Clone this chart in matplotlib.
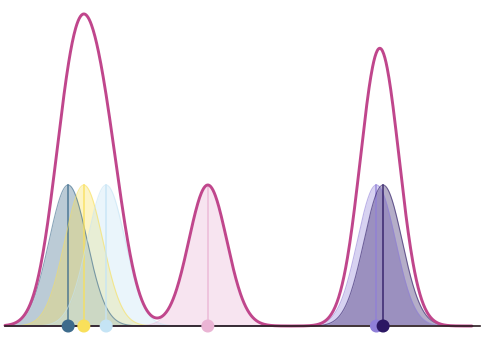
import numpy as np
import matplotlib.pyplot as plt

# sample positions (0-100 domain) and their colours
values = [13.3, 16.6, 21.3, 42.7, 78.2, 79.6]
colors = ['#3d6b8c', '#f9e05a', '#c5e4f5', '#eab4d4', '#8f7fd8', '#2b1763']
bandwidth = 4.0
x_min, x_max = 0, 98.3

xs = np.linspace(x_min, x_max, 800)
kernels = [np.exp(-0.5 * ((xs - v) / bandwidth) ** 2) for v in values]
total = np.sum(kernels, axis=0)

fig = plt.figure(figsize=(4.84, 3.37), dpi=100)
ax = fig.add_axes([0, 0, 1, 1])

for v, k, c in zip(values, kernels, colors):
    ax.fill_between(xs, 0, k, color=c, alpha=0.35, lw=0)
    ax.plot(xs, k, color=c, lw=0.8, alpha=0.6)
    ax.plot([v, v], [0, 1], color=c, lw=1.2, alpha=0.8)

ax.plot(xs, total, color='#c0468c', lw=2.1, solid_capstyle='round')
ax.plot([0, 100], [0, 0], color='#2a1e22', lw=1.2)
ax.scatter(values, [0] * len(values), s=70, c=colors, zorder=5, clip_on=False)

ax.set_xlim(-1.05, 100.84)
ax.set_ylim(-0.078, 2.312)
ax.axis('off')
fig.savefig('out.png', dpi=100)
